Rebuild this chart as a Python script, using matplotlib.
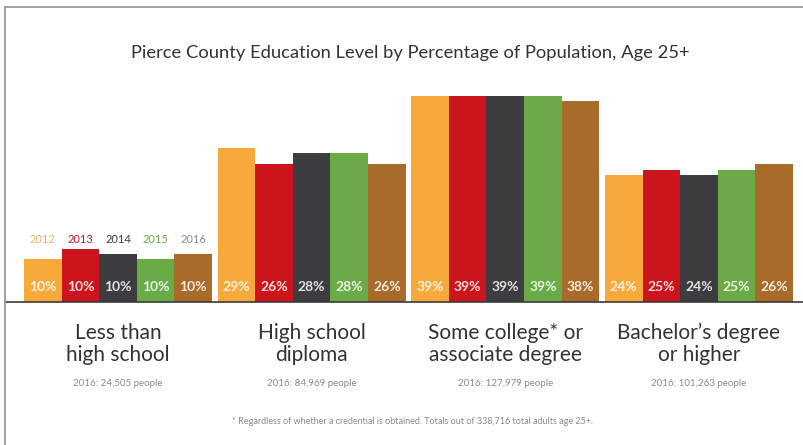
import matplotlib
matplotlib.use("Agg")
import matplotlib.pyplot as plt
from matplotlib import transforms
from matplotlib.lines import Line2D

# ---- data ----
categories = ["Less than\nhigh school", "High school\ndiploma",
              "Some college* or\nassociate degree", "Bachelor\u2019s degree\nor higher"]
years = ["2012", "2013", "2014", "2015", "2016"]
# bar heights as drawn (percent of population)
h2012 = [8.1, 29.2, 39.0, 24.0]
h2013 = [10.0, 26.1, 39.0, 25.0]
h2014 = [9.1, 28.2, 39.0, 24.0]
h2015 = [8.1, 28.2, 39.0, 25.0]
h2016 = [9.1, 26.1, 38.0, 26.1]
# printed labels
l2012 = ["10%", "29%", "39%", "24%"]
l2013 = ["10%", "26%", "39%", "25%"]
l2014 = ["10%", "28%", "39%", "24%"]
l2015 = ["10%", "28%", "39%", "25%"]
l2016 = ["10%", "26%", "38%", "26%"]
people_2016 = ["2016: 24,505 people", "2016: 84,969 people",
               "2016: 127,979 people", "2016: 101,263 people"]
title = "Pierce County Education Level by Percentage of Population, Age 25+"
footnote = "* Regardless of whether a credential is obtained. Totals out of 338,716 total adults age 25+."

colors = ["#F7A93B", "#CC141D", "#3C3C41", "#6AAB47", "#A86B2A"]
year_colors = ["#F4B25C", "#CC141D", "#3C3C41", "#6AAB47", "#8C8C8C"]

heights = [h2012, h2013, h2014, h2015, h2016]
labels = [l2012, l2013, l2014, l2015, l2016]

FONT = ["Lato", "DejaVu Sans"]

W, H = 804, 445
fig = plt.figure(figsize=(W / 100, H / 100), dpi=100)
fig.patch.set_facecolor("white")

base_px, top_px, left_px = 302, 7, 5
ax = fig.add_axes([left_px / W, (H - base_px) / H, (W - left_px) / W, (base_px - top_px) / H])
ax.set_facecolor("white")

pitch = 5.15
px_per_unit = 37.6
px_per_pct = 5.28
ax.set_xlim(-(24 - left_px) / px_per_unit, (W - 24) / px_per_unit)
ax.set_ylim(0, (base_px - top_px) / px_per_pct)

for i, (hs, ls) in enumerate(zip(heights, labels)):
    xs = [g * pitch + i for g in range(len(categories))]
    ax.bar(xs, hs, width=1.0, align="edge", color=colors[i], linewidth=0)
    for x, lab in zip(xs, ls):
        ax.text(x + 0.5, 2.9, lab, ha="center", va="center", fontsize=10,
                fontweight="bold", color="white", alpha=0.85, family=FONT)

# year legend above first group
for i, y in enumerate(years):
    ax.text(i + 0.5, max(h2013[0], h2014[0]) + 1.9, y, ha="center", va="center",
            fontsize=8, color=year_colors[i], family=FONT)

for s in ["top", "right", "left"]:
    ax.spines[s].set_visible(False)
ax.spines["bottom"].set_color("#3a3a3a")
ax.spines["bottom"].set_linewidth(1.2)
ax.set_xticks([])
ax.set_yticks([])

trans = transforms.blended_transform_factory(ax.transData, fig.transFigure)
for g, (cat, ppl) in enumerate(zip(categories, people_2016)):
    cx = g * pitch + 2.5
    ax.text(cx, (H - 344) / H, cat, transform=trans, ha="center", va="center",
            fontsize=15, color="#333333", linespacing=1.15, family=FONT)
    ax.text(cx, (H - 383) / H, ppl, transform=trans, ha="center", va="center",
            fontsize=7, color="#8a8a8a", family=FONT)

fig.text(410 / W, (H - 53) / H, title, ha="center", va="center",
         fontsize=13.2, color="#333333", family=FONT)
fig.text(413 / W, (H - 422) / H, footnote, ha="center", va="center",
         fontsize=6.5, color="#8a8a8a", family=FONT)

# frame lines (top and left)
fig.add_artist(Line2D([left_px / W, 1], [(H - top_px) / H] * 2, transform=fig.transFigure,
                      color="#9a9a9a", linewidth=1.3))
fig.add_artist(Line2D([left_px / W] * 2, [0, (H - top_px) / H], transform=fig.transFigure,
                      color="#9a9a9a", linewidth=1.3))

fig.savefig("out.png", dpi=100, facecolor="white")
